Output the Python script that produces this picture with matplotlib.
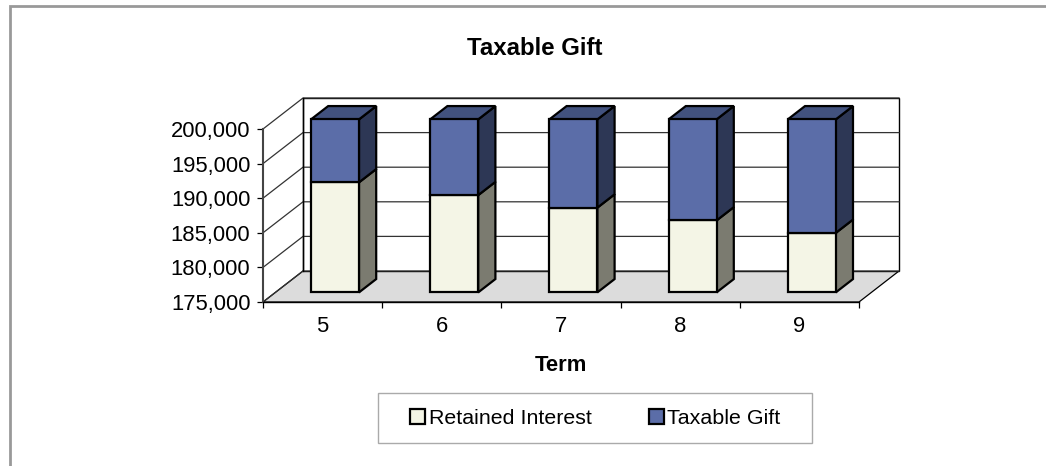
import matplotlib
matplotlib.use('Agg')
import matplotlib.pyplot as plt
from matplotlib.patches import Patch, Polygon, Rectangle

plt.rcParams['font.family'] = ['Liberation Sans', 'DejaVu Sans']

terms = ['5', '6', '7', '8', '9']
retained_interest = [190900, 189050, 187250, 185400, 183600]
taxable_gift = [9100, 10950, 12750, 14600, 16400]
value_ticks = [175000, 180000, 185000, 190000, 195000, 200000]

W, H = 1046, 466
FS = 15.8

# how far the back wall sits from the front plane, in data units
DEPTH_X = 40 / 119.2
DEPTH_Y = 31 / 173 * 25000
BAR_W = 48 / 119.2
BAR_D0, BAR_D1 = 0.31, 0.74

cream, cream_side = '#F4F5E6', '#7B7B70'
blue, blue_top, blue_side = '#5B6DA8', '#42527E', '#2D3755'


def proj(x, v, d):
    return (x + d * DEPTH_X, v + d * DEPTH_Y)


def poly(ax, pts, color, z, ec='black', lw=1.0):
    ax.add_patch(Polygon(pts, closed=True, facecolor=color, edgecolor=ec,
                         linewidth=lw, zorder=z, clip_on=False, joinstyle='miter'))


fig = plt.figure(figsize=(W / 100, H / 100), dpi=100, facecolor='white')

# outer frame of the chart area
fig.add_artist(Polygon([(9.5 / W, 0), (9.5 / W, 1 - 6 / H), (1, 1 - 6 / H)], closed=False,
                       fill=False, edgecolor='#999999', linewidth=2.0,
                       transform=fig.transFigure))

ax = fig.add_axes([263 / W, 1 - 302 / H, 596 / W, 173 / H])
ax.set_xlim(0, len(terms))
ax.set_ylim(value_ticks[0], value_ticks[-1])
ax.patch.set_visible(False)
for s in ['top', 'right']:
    ax.spines[s].set_visible(False)
ax.spines['left'].set_linewidth(1.5)
ax.spines['left'].set_color('#444444')
ax.spines['left'].set_zorder(2)
ax.spines['bottom'].set_linewidth(1.0)
ax.spines['bottom'].set_zorder(2)

n = len(terms)
vmin, vmax = value_ticks[0], value_ticks[-1]

# floor
poly(ax, [proj(0, vmin, 0), proj(n, vmin, 0), proj(n, vmin, 1), proj(0, vmin, 1)],
     '#DCDCDC', 1, lw=0.9)
# back wall
poly(ax, [proj(0, vmin, 1), proj(n, vmin, 1), proj(n, vmax, 1), proj(0, vmax, 1)],
     'white', 1, lw=1.0)
# gridlines and the left wall
for v in value_ticks:
    x0, y0 = proj(0, v, 0)
    x1, y1 = proj(0, v, 1)
    x2, y2 = proj(n, v, 1)
    ax.plot([x0, x1, x2], [y0, y1, y2], color='#333333', lw=0.9, zorder=1.5,
            clip_on=False, solid_joinstyle='miter')
x0, y0 = proj(0, vmin, 1)
x1, y1 = proj(0, vmax, 1)
ax.plot([x0, x1], [y0, y1], color='black', lw=1.0, zorder=1.5, clip_on=False)

# bars
for i in range(n):
    xl = i + 0.5 - BAR_W / 2
    xr = i + 0.5 + BAR_W / 2
    bottom = vmin
    for val, face, side in [(retained_interest[i] - vmin, cream, cream_side),
                            (taxable_gift[i], blue, blue_side)]:
        top = bottom + val
        poly(ax, [proj(xr, bottom, BAR_D0), proj(xr, bottom, BAR_D1),
                  proj(xr, top, BAR_D1), proj(xr, top, BAR_D0)], side, 3, lw=1.6)
        poly(ax, [proj(xl, bottom, BAR_D0), proj(xr, bottom, BAR_D0),
                  proj(xr, top, BAR_D0), proj(xl, top, BAR_D0)], face, 4, lw=1.6)
        bottom = top
    poly(ax, [proj(xl, bottom, BAR_D0), proj(xr, bottom, BAR_D0),
              proj(xr, bottom, BAR_D1), proj(xl, bottom, BAR_D1)], blue_top, 3, lw=1.6)

ax.set_yticks(value_ticks)
ax.set_yticklabels([f'{v:,}' for v in value_ticks], fontsize=FS)
ax.set_xticks(range(n + 1))
ax.set_xticklabels([])
ax.set_xticks([i + 0.5 for i in range(n)], minor=True)
ax.set_xticklabels(terms, minor=True, fontsize=FS)
ax.tick_params(axis='x', which='minor', length=0, pad=10)
ax.tick_params(axis='x', which='major', length=4, width=0.9)
ax.tick_params(axis='y', length=4, width=0.9, pad=5)

fig.text(535 / W, 1 - 48.5 / H, 'Taxable Gift', fontsize=17.3, fontweight='bold',
         ha='center', va='center')
fig.text(561 / W, 1 - 365.5 / H, 'Term', fontsize=FS, fontweight='bold',
         ha='center', va='center')

# legend box is bigger than its content, so it gets its own rectangle
fig.add_artist(Rectangle((378 / W, 1 - 443 / H), 434 / W, 50 / H, facecolor='white',
                         edgecolor='#AAAAAA', linewidth=1.0, transform=fig.transFigure))
handles = [Patch(facecolor=cream, edgecolor='black', linewidth=1.6),
           Patch(facecolor=blue, edgecolor='black', linewidth=1.6)]
fig.legend(handles, ['Retained Interest', 'Taxable Gift'], loc='center',
           bbox_to_anchor=(595.5 / W, 1 - 418 / H), ncol=2, fontsize=15.4,
           frameon=False, handlelength=0.7, handleheight=0.7, handletextpad=0.15,
           columnspacing=2.7, borderpad=0, borderaxespad=0)

fig.savefig('out.png', dpi=100)
